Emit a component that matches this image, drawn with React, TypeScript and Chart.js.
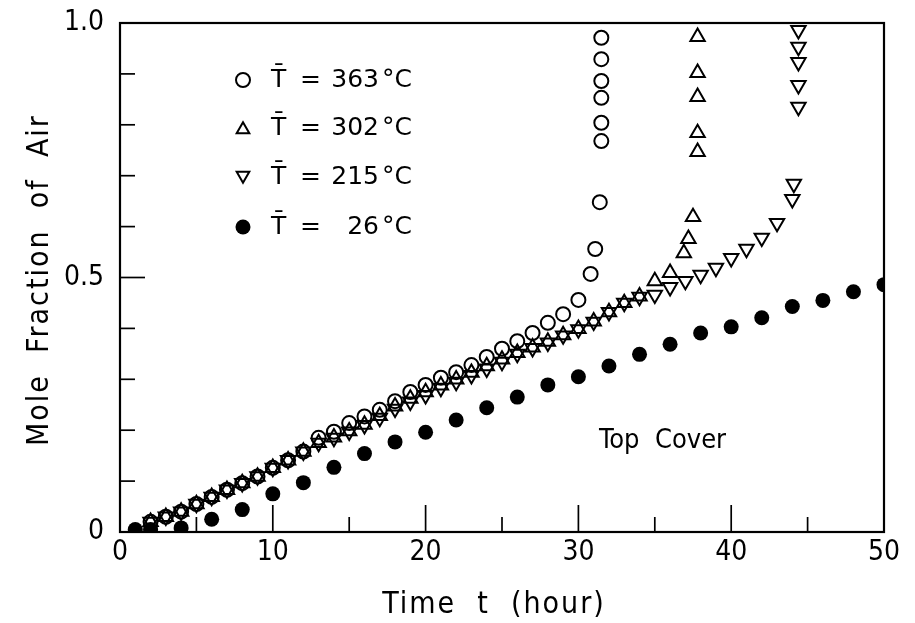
import React, { useEffect, useRef } from 'react';
import { Chart, registerables } from 'chart.js';

Chart.register(...registerables);

// ---- data ----
const hours363 = [2, 3, 4, 5, 6, 7, 8, 9, 10, 11, 12, 13, 14, 15, 16, 17, 18, 19, 20, 21, 22, 23, 24, 25, 26, 27, 28, 29, 30, 30.8, 31.1, 31.4, 31.5, 31.5, 31.5, 31.5, 31.5, 31.5];
const frac363 = [0.020, 0.030, 0.040, 0.055, 0.069, 0.083, 0.096, 0.109, 0.126, 0.141, 0.158, 0.185, 0.197, 0.214, 0.227, 0.240, 0.257, 0.275, 0.289, 0.303, 0.314, 0.328, 0.344, 0.360, 0.375, 0.391, 0.411, 0.428, 0.456, 0.507, 0.556, 0.648, 0.768, 0.804, 0.853, 0.886, 0.929, 0.971];

const hours302 = [2, 3, 4, 5, 6, 7, 8, 9, 10, 11, 12, 13, 14, 15, 16, 17, 18, 19, 20, 21, 22, 23, 24, 25, 26, 27, 28, 29, 30, 31, 32, 33, 34, 35, 36, 36.9, 37.2, 37.5, 37.8, 37.8, 37.8, 37.8, 37.8];
const frac302 = [0.020, 0.030, 0.040, 0.055, 0.069, 0.083, 0.096, 0.109, 0.126, 0.141, 0.158, 0.175, 0.186, 0.198, 0.211, 0.228, 0.247, 0.262, 0.275, 0.288, 0.300, 0.313, 0.326, 0.339, 0.352, 0.363, 0.374, 0.387, 0.399, 0.414, 0.432, 0.450, 0.463, 0.493, 0.509, 0.548, 0.576, 0.619, 0.747, 0.784, 0.855, 0.902, 0.973];

const hours215 = [2, 3, 4, 5, 6, 7, 8, 9, 10, 11, 12, 13, 14, 15, 16, 17, 18, 19, 20, 21, 22, 23, 24, 25, 26, 27, 28, 29, 30, 31, 32, 33, 34, 35, 36, 37, 38, 39, 40, 41, 42, 43, 44, 44.1, 44.4, 44.4, 44.4, 44.4, 44.4];
const frac215 = [0.020, 0.030, 0.040, 0.055, 0.069, 0.083, 0.096, 0.109, 0.126, 0.141, 0.158, 0.175, 0.185, 0.197, 0.210, 0.224, 0.242, 0.256, 0.269, 0.283, 0.295, 0.308, 0.321, 0.334, 0.350, 0.361, 0.372, 0.386, 0.398, 0.413, 0.432, 0.450, 0.462, 0.466, 0.481, 0.493, 0.505, 0.519, 0.538, 0.556, 0.578, 0.607, 0.654, 0.684, 0.835, 0.878, 0.923, 0.953, 0.986];

const hours26 = [1, 2, 4, 6, 8, 10, 12, 14, 16, 18, 20, 22, 24, 26, 28, 30, 32, 34, 36, 38, 40, 42, 44, 46, 48, 50];
const frac26 = [0.005, 0.005, 0.008, 0.025, 0.044, 0.075, 0.097, 0.127, 0.154, 0.177, 0.196, 0.220, 0.244, 0.265, 0.289, 0.305, 0.326, 0.349, 0.369, 0.391, 0.403, 0.421, 0.443, 0.455, 0.472, 0.486];

const legendTemps = ['363', '302', '215', '26'];
const xLabelValues = [0, 10, 20, 30, 40, 50];
const yLabelValues = [0, 0.5, 1.0];
const yLabelTexts = ['0', '0.5', '1.0'];
const xTitle = 'Time  t  (hour)';
const yTitle = 'Mole  Fraction  of  Air';
const noteText = 'Top  Cover';

const COND = '"DejaVu Sans Condensed", "DejaVu Sans", sans-serif';
const PLAIN = '"DejaVu Sans", sans-serif';

const R_CIRCLE = 7;
const R_FILLED = 7.5;
const R_TRI = 8.3;
const BW = 2;

function zip(xs: number[], ys: number[]) {
  return xs.map((x, i) => ({ x, y: ys[i] }));
}

function drawMarker(ctx: CanvasRenderingContext2D, kind: string, x: number, y: number, r: number) {
  ctx.beginPath();
  if (kind === 'circle' || kind === 'filled') {
    ctx.arc(x, y, r, 0, Math.PI * 2);
  } else {
    let rad = kind === 'down' ? Math.PI : 0;
    const T = (2 * Math.PI) / 3;
    ctx.moveTo(x + Math.sin(rad) * r, y - Math.cos(rad) * r);
    rad += T;
    ctx.lineTo(x + Math.sin(rad) * r, y - Math.cos(rad) * r);
    rad += T;
    ctx.lineTo(x + Math.sin(rad) * r, y - Math.cos(rad) * r);
    ctx.closePath();
  }
  if (kind === 'filled') {
    ctx.fillStyle = '#000';
    ctx.fill();
  } else {
    ctx.strokeStyle = '#000';
    ctx.lineWidth = BW;
    ctx.stroke();
  }
}

const decorPlugin = {
  id: 'decor',
  beforeDatasetsDraw(chart: any) {
    const { ctx, chartArea: a, scales } = chart;
    const xs = scales.x;
    const ys = scales.y;
    ctx.save();
    ctx.strokeStyle = '#000';
    ctx.lineWidth = 2.2;
    ctx.strokeRect(a.left, a.top, a.right - a.left, a.bottom - a.top);
    ctx.lineWidth = 1.7;
    for (let v = 5; v < 50; v += 5) {
      const px = xs.getPixelForValue(v);
      const len = v % 10 === 0 ? 27 : 15;
      ctx.beginPath();
      ctx.moveTo(px, a.bottom);
      ctx.lineTo(px, a.bottom - len);
      ctx.stroke();
    }
    for (let i = 1; i < 10; i++) {
      const py = ys.getPixelForValue(i / 10);
      const len = i === 5 ? 25 : 15;
      ctx.beginPath();
      ctx.moveTo(a.left, py);
      ctx.lineTo(a.left + len, py);
      ctx.stroke();
    }
    ctx.restore();
  },
  afterDatasetsDraw(chart: any) {
    const { ctx, chartArea: a } = chart;
    ctx.save();
    ctx.fillStyle = '#000';
    // legend
    const kinds = ['circle', 'up', 'down', 'filled'];
    const rowY = [80, 128, 177, 227];
    ctx.textBaseline = 'middle';
    legendTemps.forEach((t, i) => {
      const y = rowY[i];
      const k = kinds[i];
      const r = k === 'filled' ? R_FILLED : k === 'circle' ? R_CIRCLE : R_TRI - 1;
      drawMarker(ctx, k, 243, y + (k === 'up' ? 1.5 : k === 'down' ? -1.5 : 0), r);
      ctx.fillStyle = '#000';
      ctx.font = '25px ' + PLAIN;
      ctx.textAlign = 'left';
      ctx.fillText('T\u0304', 271, y);
      ctx.fillText('=', 300, y);
      ctx.textAlign = 'right';
      ctx.fillText(t, 379, y);
      ctx.textAlign = 'left';
      ctx.fillText('\u00B0C', 382, y);
    });
    // note
    ctx.font = '27px ' + COND;
    ctx.textAlign = 'left';
    ctx.fillText(noteText, 599, 441);
    // axis titles
    (ctx as any).letterSpacing = '2px';
    ctx.font = '30px ' + COND;
    ctx.textAlign = 'center';
    ctx.fillText(xTitle, (a.left + a.right) / 2 - 8, 605);
    ctx.translate(40, 280);
    ctx.rotate(-Math.PI / 2);
    ctx.fillText(yTitle, 0, 0);
    (ctx as any).letterSpacing = '0px';
    ctx.restore();
  },
};

export default function App() {
  const ref = useRef<HTMLCanvasElement | null>(null);
  useEffect(() => {
    if (!ref.current) return;
    const tickFont = { family: COND, size: 28 };
    const chart = new Chart(ref.current, {
      type: 'scatter',
      data: {
        datasets: [
          {
            label: '26',
            data: zip(hours26, frac26),
            pointStyle: 'circle',
            pointRadius: R_FILLED,
            pointBackgroundColor: '#000',
            pointBorderColor: '#000',
            pointBorderWidth: 0,
          },
          {
            label: '363',
            data: zip(hours363, frac363),
            pointStyle: 'circle',
            pointRadius: R_CIRCLE,
            pointBackgroundColor: 'rgba(0,0,0,0)',
            pointBorderColor: '#000',
            pointBorderWidth: BW,
          },
          {
            label: '302',
            data: zip(hours302, frac302),
            pointStyle: 'triangle',
            pointRadius: R_TRI,
            pointBackgroundColor: 'rgba(0,0,0,0)',
            pointBorderColor: '#000',
            pointBorderWidth: BW,
          },
          {
            label: '215',
            data: zip(hours215, frac215),
            pointStyle: 'triangle',
            rotation: 180,
            pointRadius: R_TRI,
            pointBackgroundColor: 'rgba(0,0,0,0)',
            pointBorderColor: '#000',
            pointBorderWidth: BW,
          },
        ] as any,
      },
      options: {
        animation: false,
        responsive: false,
        layout: { padding: { left: 0, right: 31, top: 23, bottom: 0 } },
        scales: {
          x: {
            type: 'linear',
            min: 0,
            max: 50,
            afterFit: (s: any) => { s.height = 91; s.paddingLeft = 0; s.paddingRight = 0; },
            afterBuildTicks: (s: any) => { s.ticks = xLabelValues.map((v) => ({ value: v })); },
            ticks: { color: '#000', font: tickFont, padding: 4, autoSkip: false, maxRotation: 0, callback: (v: any) => String(v) },
            grid: { display: false, drawTicks: false },
            border: { display: false },
          },
          y: {
            type: 'linear',
            min: 0,
            max: 1,
            afterFit: (s: any) => { s.width = 120; s.paddingTop = 0; s.paddingBottom = 0; },
            afterBuildTicks: (s: any) => { s.ticks = yLabelValues.map((v) => ({ value: v })); },
            ticks: {
              color: '#000',
              font: tickFont,
              padding: 16,
              autoSkip: false,
              callback: (v: any) => {
                const i = yLabelValues.findIndex((t) => Math.abs(t - Number(v)) < 1e-6);
                return i >= 0 ? yLabelTexts[i] : '';
              },
            },
            grid: { display: false, drawTicks: false },
            border: { display: false },
          },
        },
        plugins: { legend: { display: false }, tooltip: { enabled: false }, title: { display: false } },
      },
      plugins: [decorPlugin],
    });
    return () => chart.destroy();
  }, []);
  return (
    <div style={{ position: 'absolute', left: 0, top: 0, width: 915, height: 623, background: '#fff' }}>
      <canvas ref={ref} width={915} height={623} style={{ display: 'block' }} />
    </div>
  );
}
